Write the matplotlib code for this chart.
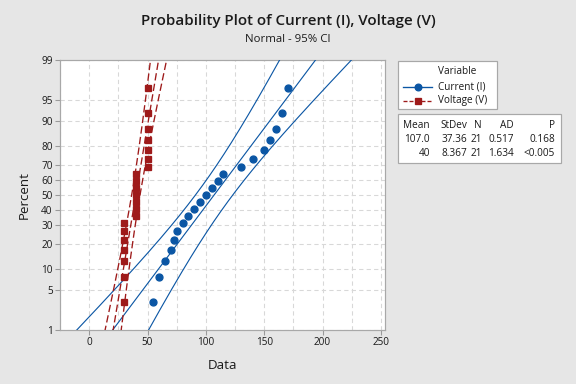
import numpy as np
import matplotlib
matplotlib.use("Agg")
import matplotlib.pyplot as plt
from matplotlib.ticker import FixedLocator, MultipleLocator
from matplotlib.lines import Line2D
from matplotlib.patches import Rectangle
from statistics import NormalDist

# ---- data ----
current = [55, 60, 65, 70, 73, 75, 80, 85, 90, 95, 100, 105, 110, 115,
           130, 140, 150, 155, 160, 165, 170]
voltage = [30, 30, 30, 30, 30, 30, 30, 40, 40, 40, 40, 40, 40, 40,
           50, 50, 50, 50, 50, 50, 50]
series_names = ["Current (I)", "Voltage (V)"]
percent_ticks = [1, 5, 10, 20, 30, 40, 50, 60, 70, 80, 90, 95, 99]
x_ticks = [0, 50, 100, 150, 200, 250]
mean_text = ["107.0", "40"]
sd_text = ["37.36", "8.367"]
n_text = ["21", "21"]
ad_text = ["0.517", "1.634"]
p_text = ["0.168", "<0.005"]

FONT = "Open Sans"
plt.rcParams["font.family"] = [FONT, "DejaVu Sans"]

colors = ["#0B56A4", "#9E1A1A"]
markers = ["o", "s"]
msizes = [5.2, 4.9]
bg = "#E6E6E6"

nd = NormalDist()

fig = plt.figure(figsize=(6, 4), dpi=96, facecolor=bg)
W, H = 576, 384
ax = fig.add_axes([60 / W, 1 - 330 / H, 325 / W, 270 / H])
ax.set_facecolor("white")

zlo, zhi = nd.inv_cdf(0.01), nd.inv_cdf(0.99)
zgrid = np.linspace(zlo - 0.05, zhi + 0.05, 300)

for data, name, c, m, ms in zip([current, voltage], series_names, colors, markers, msizes):
    x = np.sort(np.asarray(data, dtype=float))
    n = len(x)
    ranks = np.arange(1, n + 1)
    pp = (ranks - 0.3) / (n + 0.4)
    zp = np.array([nd.inv_cdf(p) for p in pp])
    mu = x.mean()
    sd = x.std(ddof=1)
    fit = mu + zgrid * sd
    se = sd * np.sqrt(1.0 / n + zgrid ** 2 / (2.0 * n))
    lo = fit - 1.96 * se
    hi = fit + 1.96 * se
    if m == "o":
        ls = dict(ls="-", lw=0.85)
    else:
        ls = dict(ls=(0, (5.5, 2.5)), lw=1.0)
    for xx in (lo, fit, hi):
        ax.plot(xx, zgrid, color=c, zorder=3, **ls)
    ax.plot(x, zp, ls="none", marker=m, color=c, ms=ms, mec=c, zorder=4)

ax.set_xlim(-25, 253.5)
ax.set_ylim(zlo, zhi)
ax.yaxis.set_major_locator(FixedLocator([nd.inv_cdf(p / 100) for p in percent_ticks]))
ax.set_yticklabels([str(p) for p in percent_ticks])
ax.xaxis.set_major_locator(FixedLocator(x_ticks))
ax.xaxis.set_minor_locator(MultipleLocator(25))
ax.grid(True, which="both", axis="x", color="#D8D8D8", ls=(0, (4, 3)), lw=0.8)
ax.grid(True, which="major", axis="y", color="#D8D8D8", ls=(0, (4, 3)), lw=0.8)
ax.set_axisbelow(True)
ax.tick_params(which="major", length=3.5, width=0.8, color="#9A9A9A",
               labelsize=7.5, pad=2, labelcolor="#1A1A1A")
ax.tick_params(which="minor", length=0)
for s in ax.spines.values():
    s.set_color("#A8A8A8")
    s.set_linewidth(0.9)

ax.set_xlabel("Data", fontsize=10, labelpad=8, color="#1A1A1A")
ax.set_ylabel("Percent", fontsize=10, labelpad=8, color="#1A1A1A")

fig.text(288 / W, 1 - 21 / H, "Probability Plot of Current (I), Voltage (V)",
         ha="center", va="center", fontsize=11.3, fontweight="semibold", color="#1A1A1A")
fig.text(288 / W, 1 - 39 / H, "Normal - 95% CI", ha="center", va="center",
         fontsize=8.5, color="#1A1A1A")

# ---- legend & stats table (overlay in pixel coordinates) ----
ov = fig.add_axes([0, 0, 1, 1])
ov.set_xlim(0, W)
ov.set_ylim(H, 0)
ov.axis("off")
ov.patch.set_visible(False)

ov.add_patch(Rectangle((398, 61), 99, 48, facecolor="white", edgecolor="#A8A8A8", lw=0.9))
ov.text(438, 72, "Variable", fontsize=7.5, va="center", ha="left", color="#1A1A1A")
for i, (name, c, m) in enumerate(zip(series_names, colors, markers)):
    y = 87 + i * 13.5
    lsty = "-" if m == "o" else (0, (3, 1.5))
    ov.add_line(Line2D([403, 432], [y, y], color=c, lw=1.0, ls=lsty))
    ov.plot([417.5], [y], marker=m, color=c, ms=5.0, ls="none")
    ov.text(438, y, name, fontsize=7.5, va="center", ha="left", color="#1A1A1A")

ov.add_patch(Rectangle((398, 114), 163, 48.5, facecolor="white", edgecolor="#A8A8A8", lw=0.9))
col_right = [430, 467, 482, 514, 555]
headers = ["Mean", "StDev", "N", "AD", "P"]
for xr, h in zip(col_right, headers):
    ov.text(xr, 126, h, fontsize=7.5, va="center", ha="right", color="#1A1A1A")
rows = list(zip(mean_text, sd_text, n_text, ad_text, p_text))
for i, row in enumerate(rows):
    y = 140 + i * 14
    for xr, t in zip(col_right, row):
        ov.text(xr, y, t, fontsize=7.5, va="center", ha="right", color="#1A1A1A")

fig.savefig("out.png", dpi=96, facecolor=bg)
